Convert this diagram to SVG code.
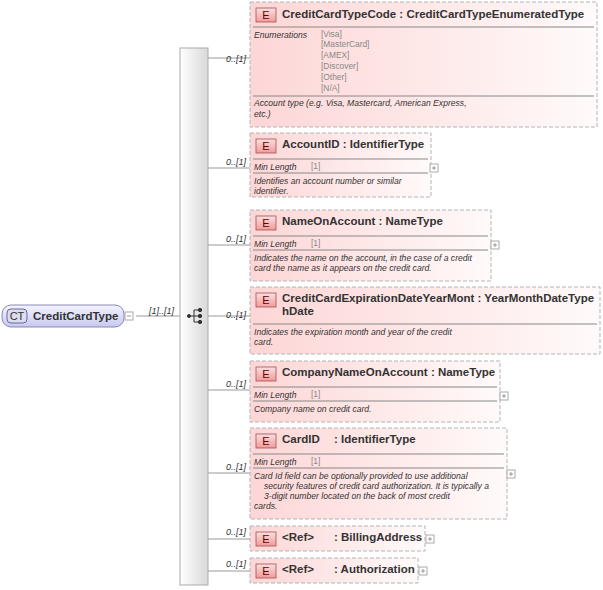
<svg xmlns="http://www.w3.org/2000/svg" width="603" height="590" viewBox="0 0 603 590">
<defs>
<linearGradient id="eg" x1="0" y1="0" x2="1" y2="0"><stop offset="0" stop-color="#fdd6d6"/><stop offset="1" stop-color="#fffafa"/></linearGradient>
<linearGradient id="bg" x1="0" y1="0" x2="0" y2="1"><stop offset="0" stop-color="#fbe0e0"/><stop offset="1" stop-color="#f29a9a"/></linearGradient>
<linearGradient id="seq" x1="0" y1="0" x2="1" y2="0"><stop offset="0" stop-color="#ffffff"/><stop offset="1" stop-color="#d8d8d8"/></linearGradient>
<linearGradient id="ct" x1="0" y1="0" x2="0" y2="1"><stop offset="0" stop-color="#f4f4ff"/><stop offset="1" stop-color="#c8c8f0"/></linearGradient>
</defs>
<style>
.box{fill:url(#eg);stroke:#b4b4b4;stroke-dasharray:4,2;}
.badge{fill:url(#bg);stroke:#a05050;stroke-width:0.8}
.bt{font:11px "Liberation Sans",Arial,sans-serif;fill:#600000;text-anchor:middle}
.h{font:bold 11.5px "Liberation Sans",Arial,sans-serif;fill:#333}
.it{font:italic 8.6px "Liberation Sans",Arial,sans-serif;fill:#333}
.en{font:8.4px "Liberation Sans",Arial,sans-serif;fill:#888}
.sep{stroke:#888;stroke-width:1}
.cn{stroke:#999;fill:none}
.card{font:italic 9px "Liberation Sans",Arial,sans-serif;fill:#333}
.plus{fill:#fff;stroke:#aaa}
.pl{stroke:#999}
</style>
<g id="connectors">
<line class="cn" x1="136" y1="316" x2="180" y2="316"/>
<line class="cn" x1="208" y1="58" x2="250" y2="58"/>
<line class="cn" x1="208" y1="168" x2="250" y2="168"/>
<line class="cn" x1="208" y1="245" x2="250" y2="245"/>
<line class="cn" x1="208" y1="316" x2="250" y2="316"/>
<line class="cn" x1="208" y1="390" x2="250" y2="390"/>
<line class="cn" x1="208" y1="473" x2="250" y2="473"/>
<line class="cn" x1="208" y1="539" x2="250" y2="539"/>
<line class="cn" x1="208" y1="571" x2="250" y2="571"/>
<text class="card" x="149" y="314">[1]..[1]</text>
<text class="card" x="226" y="62">0..[1]</text>
<text class="card" x="226" y="165">0..[1]</text>
<text class="card" x="226" y="242">0..[1]</text>
<text class="card" x="226" y="318">0..[1]</text>
<text class="card" x="226" y="387">0..[1]</text>
<text class="card" x="226" y="470">0..[1]</text>
<text class="card" x="226" y="535">0..[1]</text>
<text class="card" x="226" y="567">0..[1]</text>
</g>
<g id="CreditCardType">
<rect x="2" y="305" width="122" height="22" rx="9" fill="url(#ct)" stroke="#8888bb"/>
<rect x="7" y="309" width="20" height="14" rx="4" fill="#dde" stroke="#6666aa"/>
<text x="17" y="320" font-family="Liberation Sans,Arial,sans-serif" font-size="11" fill="#333" text-anchor="middle">CT</text>
<text class="h" x="33" y="320">CreditCardType</text>
<rect x="125" y="312" width="8" height="8" class="plus"/><line class="pl" x1="127" y1="316" x2="131" y2="316"/>
</g>
<g id="sequence">
<rect x="180" y="48" width="28" height="537" fill="url(#seq)" stroke="#aaa"/>
<g fill="#333" stroke="#333">
<circle cx="189" cy="316" r="1.5"/><line x1="189" y1="316" x2="194" y2="316"/>
<line x1="194" y1="310" x2="194" y2="322"/>
<line x1="194" y1="310" x2="199" y2="310"/><line x1="194" y1="316" x2="199" y2="316"/><line x1="194" y1="322" x2="199" y2="322"/>
<circle cx="200" cy="310" r="1.7"/><circle cx="200" cy="316" r="1.7"/><circle cx="200" cy="322" r="1.7"/>
</g>
</g>
<g id="CreditCardTypeCode">
<rect class="box" x="250" y="2" width="347" height="125"/>
<rect class="badge" x="256" y="8" width="20" height="14"/><text class="bt" x="266" y="19">E</text>
<text class="h" x="282" y="18">CreditCardTypeCode : CreditCardTypeEnumeratedType</text>
<line class="sep" x1="253" y1="27" x2="594" y2="27"/>
<text class="it" x="254" y="38">Enumerations</text>
<text class="en" x="321" y="37">[Visa]</text>
<text class="en" x="321" y="47">[MasterCard]</text>
<text class="en" x="321" y="58">[AMEX]</text>
<text class="en" x="321" y="69">[Discover]</text>
<text class="en" x="321" y="80">[Other]</text>
<text class="en" x="321" y="91">[N/A]</text>
<line class="sep" x1="253" y1="96" x2="594" y2="96"/>
<text class="it" x="254" y="106">Account type (e.g. Visa, Mastercard, American Express,</text>
<text class="it" x="254" y="117">etc.)</text>
</g>
<g id="AccountID">
<rect class="box" x="250" y="133" width="181" height="64"/>
<rect class="badge" x="256" y="139" width="20" height="14"/><text class="bt" x="266" y="150">E</text>
<text class="h" x="282" y="148">AccountID : IdentifierType</text>
<line class="sep" x1="253" y1="159" x2="428" y2="159"/>
<text class="it" x="254" y="170">Min Length</text><text class="en" x="311" y="169">[1]</text>
<line class="sep" x1="253" y1="173" x2="428" y2="173"/>
<text class="it" x="254" y="184">Identifies an account number or similar</text>
<text class="it" x="254" y="194">identifier.</text>
<rect x="430" y="164" width="8" height="8" class="plus"/><line class="pl" x1="432" y1="168" x2="436" y2="168"/><line class="pl" x1="434" y1="166" x2="434" y2="170"/>
</g>
<g id="NameOnAccount">
<rect class="box" x="250" y="210" width="241" height="71"/>
<rect class="badge" x="256" y="216" width="20" height="14"/><text class="bt" x="266" y="227">E</text>
<text class="h" x="282" y="225">NameOnAccount : NameType</text>
<line class="sep" x1="253" y1="236" x2="488" y2="236"/>
<text class="it" x="254" y="247">Min Length</text><text class="en" x="311" y="246">[1]</text>
<line class="sep" x1="253" y1="250" x2="488" y2="250"/>
<text class="it" x="254" y="261">Indicates the name on the account, in the case of a credit</text>
<text class="it" x="254" y="271">card the name as it appears on the credit card.</text>
<rect x="491" y="241" width="8" height="8" class="plus"/><line class="pl" x1="493" y1="245" x2="497" y2="245"/><line class="pl" x1="495" y1="243" x2="495" y2="247"/>
</g>
<g id="CreditCardExpirationDateYearMonth">
<rect class="box" x="250" y="287" width="350" height="67"/>
<rect class="badge" x="256" y="293" width="20" height="14"/><text class="bt" x="266" y="304">E</text>
<text class="h" x="282" y="302">CreditCardExpirationDateYearMont : YearMonthDateType</text>
<text class="h" x="282" y="315">hDate</text>
<line class="sep" x1="253" y1="324" x2="597" y2="324"/>
<text class="it" x="254" y="335">Indicates the expiration month and year of the credit</text>
<text class="it" x="254" y="345">card.</text>
</g>
<g id="CompanyNameOnAccount">
<rect class="box" x="250" y="361" width="250" height="61"/>
<rect class="badge" x="256" y="367" width="20" height="14"/><text class="bt" x="266" y="378">E</text>
<text class="h" x="282" y="376">CompanyNameOnAccount : NameType</text>
<line class="sep" x1="253" y1="387" x2="497" y2="387"/>
<text class="it" x="254" y="398">Min Length</text><text class="en" x="311" y="397">[1]</text>
<line class="sep" x1="253" y1="401" x2="497" y2="401"/>
<text class="it" x="254" y="412">Company name on credit card.</text>
<rect x="500" y="392" width="8" height="8" class="plus"/><line class="pl" x1="502" y1="396" x2="506" y2="396"/><line class="pl" x1="504" y1="394" x2="504" y2="398"/>
</g>
<g id="CardID">
<rect class="box" x="250" y="428" width="257" height="91"/>
<rect class="badge" x="256" y="434" width="20" height="14"/><text class="bt" x="266" y="445">E</text>
<text class="h" x="282" y="443">CardID</text><text class="h" x="334" y="443">: IdentifierType</text>
<line class="sep" x1="253" y1="454" x2="504" y2="454"/>
<text class="it" x="254" y="465">Min Length</text><text class="en" x="311" y="464">[1]</text>
<line class="sep" x1="253" y1="468" x2="504" y2="468"/>
<text class="it" x="254" y="479">Card Id field can be optionally provided to use additional</text>
<text class="it" x="264" y="489">security features of credit card authorization. It is typically a</text>
<text class="it" x="264" y="499">3-digit number located on the back of most credit</text>
<text class="it" x="254" y="509">cards.</text>
<rect x="507" y="470" width="8" height="8" class="plus"/><line class="pl" x1="509" y1="474" x2="513" y2="474"/><line class="pl" x1="511" y1="472" x2="511" y2="476"/>
</g>
<g id="BillingAddress">
<rect class="box" x="250" y="526" width="175" height="25"/>
<rect class="badge" x="256" y="532" width="20" height="14"/><text class="bt" x="266" y="543">E</text>
<text class="h" x="282" y="541">&lt;Ref&gt;</text><text class="h" x="334" y="541">: BillingAddress</text>
<rect x="426" y="535" width="8" height="8" class="plus"/><line class="pl" x1="428" y1="539" x2="432" y2="539"/><line class="pl" x1="430" y1="537" x2="430" y2="541"/>
</g>
<g id="Authorization">
<rect class="box" x="250" y="558" width="168" height="25"/>
<rect class="badge" x="256" y="564" width="20" height="14"/><text class="bt" x="266" y="575">E</text>
<text class="h" x="282" y="573">&lt;Ref&gt;</text><text class="h" x="334" y="573">: Authorization</text>
<rect x="419" y="567" width="8" height="8" class="plus"/><line class="pl" x1="421" y1="571" x2="425" y2="571"/><line class="pl" x1="423" y1="569" x2="423" y2="573"/>
</g>
</svg>
